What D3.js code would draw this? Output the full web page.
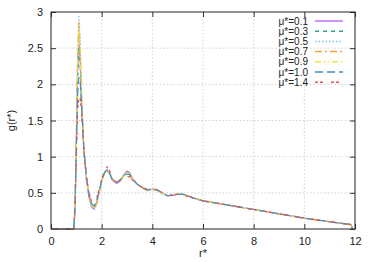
<!DOCTYPE html>
<html><head><meta charset="utf-8">
<script src="https://cdn.jsdelivr.net/npm/d3@7"></script>
<style>body{margin:0;background:#fff}svg{display:block}text{font-family:"Liberation Sans",Arial,sans-serif;fill:#222}</style>
</head><body><svg id="c" width="374" height="262"></svg>
<script>
const xTicks = [0, 2, 4, 6, 8, 10, 12];
const yTicks = [0, 0.5, 1, 1.5, 2, 2.5, 3];
const yTickLabels = ["0", "0.5", "1", "1.5", "2", "2.5", "3"];
const seriesNames = ["μ*=0.1", "μ*=0.3", "μ*=0.5", "μ*=0.7", "μ*=0.9", "μ*=1.0", "μ*=1.4"];
const r = [0, 0.9, 0.95, 1.0, 1.05, 1.1, 1.15, 1.2, 1.3, 1.4, 1.5, 1.6, 1.7, 1.8, 1.9, 2.0, 2.1, 2.2, 2.3, 2.4, 2.5, 2.6, 2.7, 2.8, 2.9, 3.0, 3.1, 3.2, 3.4, 3.6, 3.8, 4.0, 4.2, 4.4, 4.6, 4.8, 5.0, 5.2, 5.4, 5.6, 6.0, 7.0, 8.0, 9.0, 10.0, 11.0, 11.85, 11.9];
const g01 = [0, 0, 0.28, 1.2, 2.2, 2.6, 2.35, 1.8, 1.05, 0.68, 0.44, 0.31, 0.28, 0.36, 0.51, 0.66, 0.77, 0.82, 0.78, 0.70, 0.65, 0.63, 0.66, 0.71, 0.76, 0.80, 0.78, 0.71, 0.62, 0.57, 0.53, 0.55, 0.54, 0.49, 0.46, 0.46, 0.48, 0.48, 0.46, 0.43, 0.39, 0.33, 0.27, 0.21, 0.15, 0.10, 0.06, 0];
const g03 = [0, 0, 0.3, 1.15, 2.1, 2.52, 2.3, 1.78, 1.07, 0.69, 0.46, 0.33, 0.3, 0.37, 0.52, 0.67, 0.77, 0.81, 0.77, 0.69, 0.65, 0.64, 0.66, 0.70, 0.75, 0.78, 0.77, 0.70, 0.62, 0.57, 0.53, 0.55, 0.53, 0.49, 0.46, 0.47, 0.49, 0.48, 0.46, 0.43, 0.39, 0.33, 0.27, 0.21, 0.15, 0.10, 0.06, 0];
const g05 = [0, 0, 0.32, 1.3, 2.4, 2.96, 2.6, 1.95, 1.1, 0.7, 0.45, 0.3, 0.26, 0.34, 0.5, 0.65, 0.76, 0.82, 0.79, 0.71, 0.66, 0.64, 0.66, 0.70, 0.75, 0.78, 0.76, 0.70, 0.62, 0.57, 0.53, 0.55, 0.53, 0.49, 0.46, 0.47, 0.49, 0.48, 0.46, 0.43, 0.39, 0.33, 0.27, 0.21, 0.15, 0.10, 0.06, 0];
const g07 = [0, 0, 0.3, 1.25, 2.35, 2.86, 2.55, 1.9, 1.1, 0.7, 0.46, 0.32, 0.28, 0.35, 0.5, 0.66, 0.77, 0.82, 0.78, 0.70, 0.66, 0.64, 0.67, 0.71, 0.76, 0.79, 0.77, 0.70, 0.62, 0.57, 0.53, 0.55, 0.54, 0.49, 0.46, 0.47, 0.48, 0.48, 0.46, 0.43, 0.39, 0.33, 0.27, 0.21, 0.15, 0.10, 0.06, 0];
const g09 = [0, 0, 0.3, 1.2, 2.25, 2.74, 2.5, 1.88, 1.1, 0.71, 0.47, 0.33, 0.29, 0.36, 0.5, 0.66, 0.76, 0.81, 0.78, 0.70, 0.66, 0.65, 0.67, 0.71, 0.75, 0.78, 0.76, 0.70, 0.62, 0.57, 0.53, 0.55, 0.53, 0.49, 0.46, 0.47, 0.49, 0.48, 0.46, 0.43, 0.39, 0.33, 0.27, 0.21, 0.15, 0.10, 0.06, 0];
const g10 = [0, 0, 0.35, 1.1, 1.85, 2.1, 2.05, 1.75, 1.1, 0.72, 0.48, 0.35, 0.32, 0.38, 0.52, 0.67, 0.77, 0.82, 0.78, 0.70, 0.66, 0.65, 0.67, 0.70, 0.74, 0.76, 0.75, 0.70, 0.62, 0.57, 0.54, 0.56, 0.54, 0.50, 0.46, 0.47, 0.48, 0.48, 0.46, 0.43, 0.39, 0.33, 0.27, 0.21, 0.15, 0.10, 0.06, 0];
const g14 = [0, 0, 0.3, 0.95, 1.6, 1.85, 1.82, 1.6, 1.08, 0.73, 0.5, 0.38, 0.37, 0.42, 0.55, 0.69, 0.79, 0.86, 0.82, 0.72, 0.67, 0.65, 0.66, 0.68, 0.71, 0.73, 0.72, 0.68, 0.62, 0.58, 0.55, 0.56, 0.54, 0.50, 0.47, 0.47, 0.48, 0.47, 0.45, 0.43, 0.39, 0.33, 0.27, 0.21, 0.15, 0.10, 0.06, 0];
const seriesValues = [g01, g03, g05, g07, g09, g10, g14];
const colors = ["#c070f0", "#2fa882", "#7cc4f0", "#eaa830", "#f0e04a", "#3f8fc8", "#f05050"];
const dashes = [null, "4,4", "1.5,2", "7,3,2,3", "6,3,1.5,2,1.5,3", "8,4", "3,2,3,8"];

const svg = d3.select("#c");
const L = 51, R = 355, T = 12, B = 229;
const x = d3.scaleLinear().domain([0, 12]).range([L, R]);
const y = d3.scaleLinear().domain([0, 3]).range([B, T]);

// grid
svg.append("g").selectAll("line").data(xTicks.slice(1, -1)).join("line")
  .attr("x1", d => x(d)).attr("x2", d => x(d)).attr("y1", T).attr("y2", B)
  .attr("stroke", "#c8c8c8").attr("stroke-width", 0.8).attr("stroke-dasharray", "1.5,2");
svg.append("g").selectAll("line").data(yTicks.slice(1, -1)).join("line")
  .attr("y1", d => y(d)).attr("y2", d => y(d)).attr("x1", L).attr("x2", R)
  .attr("stroke", "#c8c8c8").attr("stroke-width", 0.8).attr("stroke-dasharray", "1.5,2");

// axes (ticks inward, mirrored)
const ax = (gen, tr) => svg.append("g").attr("transform", tr).call(gen)
  .call(g => g.select(".domain").remove());
ax(d3.axisBottom(x).tickValues(xTicks).tickSize(-5).tickPadding(8).tickFormat(d3.format("d")), `translate(0,${B})`);
ax(d3.axisTop(x).tickValues(xTicks).tickSize(-5).tickFormat(""), `translate(0,${T})`);
ax(d3.axisLeft(y).tickValues(yTicks).tickSize(-5).tickPadding(8).tickFormat((d, i) => yTickLabels[i]), `translate(${L},0)`);
ax(d3.axisRight(y).tickValues(yTicks).tickSize(-5).tickFormat(""), `translate(${R},0)`);
svg.selectAll(".tick line").attr("stroke", "#333");
svg.selectAll(".tick text").attr("font-size", 11).attr("fill", "#222").attr("font-family", "Liberation Sans, Arial, sans-serif");

// lines
const line = d3.line().x((d, i) => x(r[i])).y(d => y(d));
seriesValues.forEach((s, k) => {
  svg.append("path").datum(s).attr("d", line).attr("fill", "none")
    .attr("stroke", colors[k]).attr("stroke-width", 1.2)
    .attr("stroke-dasharray", dashes[k]);
});

// border
svg.append("rect").attr("x", L).attr("y", T).attr("width", R - L).attr("height", B - T)
  .attr("fill", "none").attr("stroke", "#222").attr("stroke-width", 1);

// legend
const lg = svg.append("g");
seriesNames.forEach((n, k) => {
  const yy = 21 + k * 10.2;
  lg.append("text").attr("x", 308).attr("y", yy + 3.5).attr("text-anchor", "end")
    .attr("font-size", 10).text(n);
  lg.append("line").attr("x1", 315).attr("x2", 343).attr("y1", yy).attr("y2", yy)
    .attr("stroke", colors[k]).attr("stroke-width", 1.5).attr("stroke-dasharray", dashes[k]);
});

// labels
svg.append("text").attr("x", (L + R) / 2).attr("y", 257).attr("text-anchor", "middle")
  .attr("font-size", 11).text("r*");
svg.append("text").attr("transform", `translate(15,${(T + B) / 2}) rotate(-90)`)
  .attr("text-anchor", "middle").attr("font-size", 11).text("g(r*)");
</script></body></html>
